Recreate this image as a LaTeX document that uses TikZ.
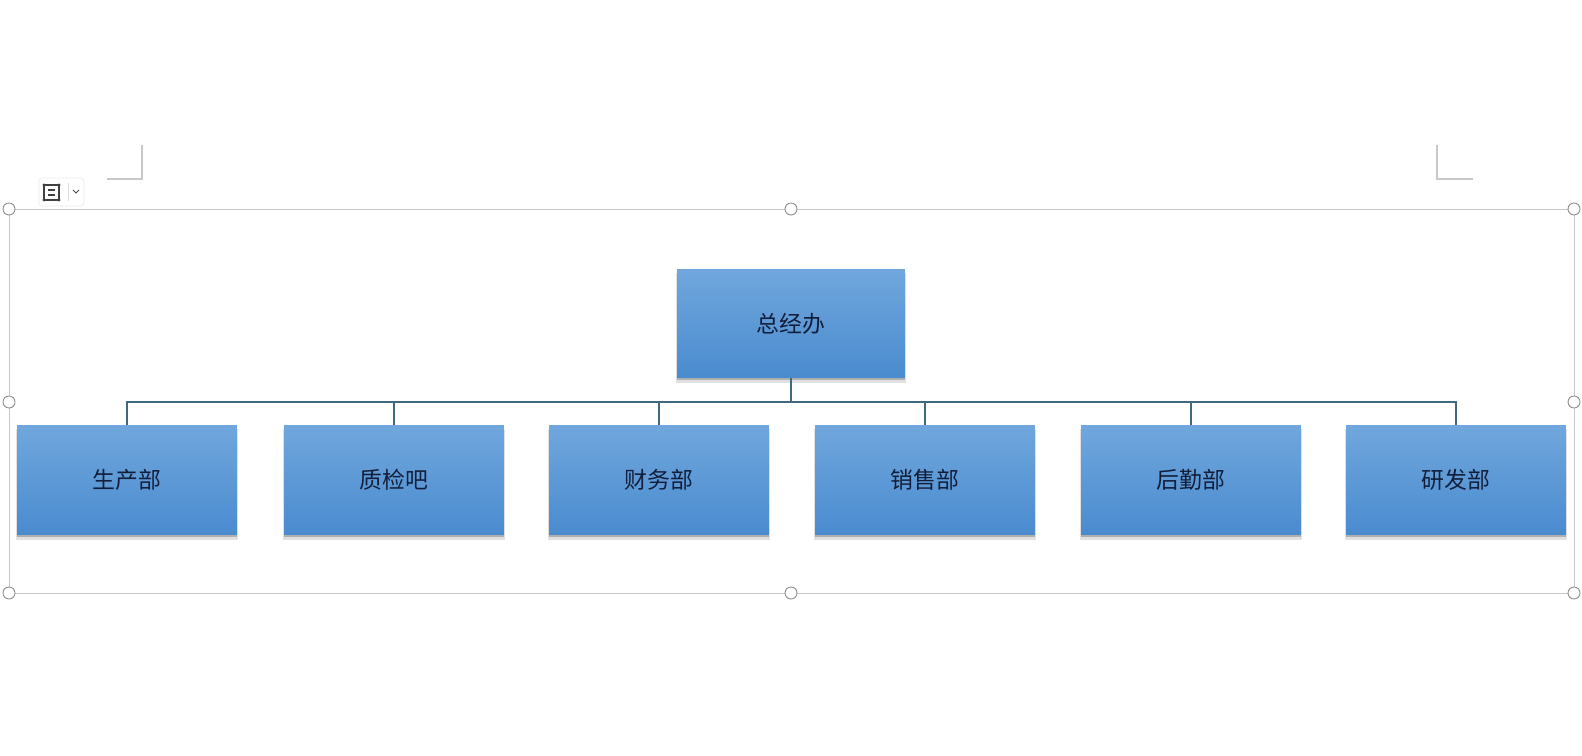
\documentclass[tikz,border=0pt]{standalone}
\usepackage{fontspec}
\newfontfamily\cjk{Noto Sans CJK SC}
\usepackage{tikz}
\usetikzlibrary{shadows}
\definecolor{boxtop}{RGB}{112,167,221}
\definecolor{boxbot}{RGB}{74,139,207}
\definecolor{linkc}{RGB}{64,104,126}
\definecolor{textc}{RGB}{18,30,58}
\definecolor{framec}{RGB}{200,200,200}
\definecolor{handlec}{RGB}{140,140,140}

\begin{document}
\begin{tikzpicture}[x=0.02cm,y=-0.02cm,
	dept/.style={rectangle,draw=none,top color=boxtop,bottom color=boxbot,
		minimum width=4.4cm,minimum height=2.2cm,inner sep=0pt,text=textc,
		font=\cjk\fontsize{13}{15}\selectfont,
		drop shadow={shadow xshift=0pt,shadow yshift=-2.4pt,shadow scale=1.01,opacity=0.12,fill=black},
		drop shadow={shadow xshift=0pt,shadow yshift=-1.3pt,opacity=0.22,fill=black}},
	link/.style={draw=linkc,line width=1.1pt},
	handle/.style={circle,draw=handlec,fill=white,line width=0.5pt,minimum size=0.24cm,inner sep=0pt}]
	\useasboundingbox (0,0) rectangle (1582,756);
	% page corner marks
	\draw[framec,line width=0.6pt] (142,145) -- (142,179) -- (107,179);
	\draw[framec,line width=0.6pt] (1437,145) -- (1437,179) -- (1473,179);
	% layout options button
	\draw[black!8,fill=white,rounded corners=2pt] (39,178) rectangle (84,206);
	\draw[black!75,line width=0.7pt] (44,185) rectangle (59,200);
	\foreach \c in {(44,185),(59,185),(44,200),(59,200)}
		\fill[black!75] \c circle (1.6);
	\draw[black!75,line width=0.7pt] (48,190) -- (55,190) (48,195) -- (55,195);
	\draw[black!15] (68,183) -- (68,201);
	\draw[black!70,line width=0.5pt] (73,190) -- (76,193) -- (79,190);
	% selection frame
	\draw[framec,line width=0.5pt] (9,209) rectangle (1574,593);
	\foreach \n/\p in {h1/{(9,209)},h2/{(791,209)},h3/{(1574,209)},h4/{(9,402)},
		h5/{(1574,402)},h6/{(9,593)},h7/{(791,593)},h8/{(1574,593)}}
		\node[handle] (\n) at \p {};

	\node[dept,minimum width=4.56cm,minimum height=2.18cm] (0) at (791,323.5) {总经办};
	\node[dept] (1) at (127,480) {生产部};
	\node[dept] (2) at (394,480) {质检吧};
	\node[dept] (3) at (659,480) {财务部};
	\node[dept] (4) at (925,480) {销售部};
	\node[dept] (5) at (1191,480) {后勤部};
	\node[dept] (6) at (1456,480) {研发部};

	\foreach \x in {1,...,6}
		\draw[link] (0.south) -- ++(0,24) -| (\x.north);
\end{tikzpicture}
\end{document}
